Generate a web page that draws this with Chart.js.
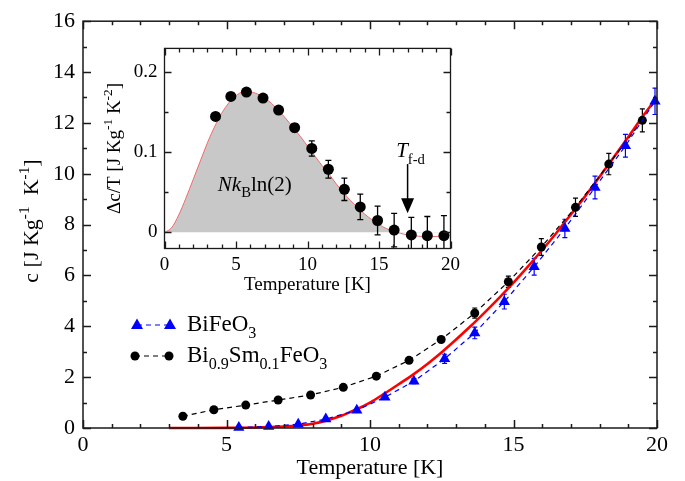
<!DOCTYPE html>
<html><head><meta charset="utf-8">
<script src="https://cdn.jsdelivr.net/npm/chart.js@4/dist/chart.umd.min.js"></script>
<style>html,body{margin:0;padding:0;background:#fff;}#wrap{position:relative;width:685px;height:481px;}#inset{position:absolute;left:95px;top:30px;}</style>
</head><body><div id="wrap"><canvas id="main" width="685" height="481"></canvas><canvas id="inset" width="370" height="272"></canvas></div>
<script>
// ---------- DATA ----------
const mainXTicks = [0, 5, 10, 15, 20];
const mainXMinor = [1,2,3,4,6,7,8,9,11,12,13,14,16,17,18,19];
const mainYTicks = [0, 2, 4, 6, 8, 10, 12, 14, 16];
const mainYMinor = [1,3,5,7,9,11,13,15];

const bfoT   = [5.43, 6.47, 7.5, 8.46, 9.54, 10.52, 11.53, 12.6, 13.65, 14.68, 15.72, 16.79, 17.84, 18.9, 19.93];
const bfoC   = [0.02, 0.06, 0.15, 0.35, 0.7, 1.21, 1.84, 2.72, 3.74, 4.97, 6.34, 7.85, 9.46, 11.1, 12.85];
const bfoErr = [0.03, 0.03, 0.04, 0.05, 0.06, 0.08, 0.1, 0.18, 0.23, 0.29, 0.33, 0.36, 0.45, 0.45, 0.52];

const bsfoT   = [3.48, 4.56, 5.67, 6.8, 7.93, 9.07, 10.22, 11.36, 12.48, 13.65, 14.82, 15.97, 17.16, 18.32, 19.49];
const bsfoC   = [0.46, 0.72, 0.9, 1.1, 1.3, 1.6, 2.04, 2.66, 3.48, 4.52, 5.75, 7.12, 8.68, 10.38, 12.1];
const bsfoErr = [0.03, 0.03, 0.03, 0.04, 0.04, 0.05, 0.06, 0.08, 0.1, 0.2, 0.22, 0.33, 0.36, 0.42, 0.45];

const fitT = [3, 4, 5, 6, 7, 7.5, 8, 8.5, 9, 9.5, 10, 10.5, 11, 11.5, 12, 12.5, 13, 13.5, 14, 14.5, 15, 15.5, 16, 16.5, 17, 17.5, 18, 18.5, 19, 19.5, 20];
const fitC = [0, 0, 0.005, 0.02, 0.06, 0.1, 0.17, 0.3, 0.48, 0.72, 1.0, 1.35, 1.72, 2.1, 2.52, 2.98, 3.48, 4.0, 4.55, 5.12, 5.72, 6.35, 7.0, 7.68, 8.4, 9.12, 9.88, 10.66, 11.45, 12.25, 13.0];

const insXTicks = [0, 5, 10, 15, 20];
const insXMinor = [1,2,3,4,6,7,8,9,11,12,13,14,16,17,18,19];
const insYTicks = [0, 0.1, 0.2];
const insYMinor = [0.05, 0.15];

const insT   = [3.57, 4.64, 5.73, 6.89, 7.98, 9.1, 10.3, 11.46, 12.58, 13.69, 14.9, 16.06, 17.26, 18.38, 19.54];
const insV   = [0.145, 0.170, 0.1755, 0.168, 0.153, 0.131, 0.105, 0.079, 0.054, 0.032, 0.015, 0.003, -0.003, -0.004, -0.004];
const insErr = [0.001, 0.001, 0.001, 0.002, 0.003, 0.005, 0.0095, 0.011, 0.014, 0.016, 0.018, 0.021, 0.022, 0.024, 0.025];

const insFitT = [0, 0.5, 1, 1.5, 2, 2.5, 3, 3.5, 4, 4.5, 5, 5.5, 6, 6.5, 7, 7.5, 8, 8.5, 9, 9.5, 10, 10.5, 11, 11.5, 12, 12.5, 13, 13.5, 14, 14.5, 15, 15.5, 16, 16.5, 17, 17.5, 18, 18.5, 19, 19.5, 20];
const insFitV = [0, 0.006, 0.022, 0.043, 0.066, 0.089, 0.112, 0.132, 0.149, 0.162, 0.171, 0.1755, 0.1755, 0.173, 0.168, 0.161, 0.152, 0.142, 0.131, 0.12, 0.108, 0.096, 0.084, 0.073, 0.061, 0.05, 0.04, 0.031, 0.023, 0.016, 0.01, 0.005, 0.002, -0.001, -0.003, -0.004, -0.005, -0.005, -0.005, -0.004, -0.003];

const arrowT = 17, arrowFrom = 0.0855, arrowTo = 0.024;

// ---------- helpers ----------
const FONT = '"Liberation Serif", "Times New Roman", serif';
const pts = (xs, ys) => xs.map((x, i) => ({x, y: ys[i]}));

function richWidth(ctx, parts, size) {
  let w = 0;
  for (const p of parts) {
    const s = p.s ? size * 0.7 : size;
    ctx.font = (p.i ? 'italic ' : '') + s + 'px ' + FONT;
    w += ctx.measureText(p.t).width;
  }
  return w;
}
function rich(ctx, parts, x, y, size, align) {
  let w = richWidth(ctx, parts, size);
  let cx = align === 'center' ? x - w / 2 : x;
  ctx.textBaseline = 'alphabetic';
  ctx.textAlign = 'left';
  for (const p of parts) {
    const s = p.s ? size * 0.7 : size;
    ctx.font = (p.i ? 'italic ' : '') + s + 'px ' + FONT;
    let dy = p.s === 'sub' ? size * 0.3 : (p.s === 'sup' ? -size * 0.42 : 0);
    ctx.fillText(p.t, cx, y + dy);
    cx += ctx.measureText(p.t).width;
  }
}

function frameTicks(chart, o) {
  const {ctx, chartArea: a, scales: {x, y}} = chart;
  ctx.save();
  ctx.strokeStyle = '#1a1a1a';
  ctx.lineWidth = o.lw;
  ctx.strokeRect(a.left, a.top, a.right - a.left, a.bottom - a.top);
  ctx.beginPath();
  const tx = (vals, len) => vals.forEach(v => {
    const p = Math.round(x.getPixelForValue(v)) + 0.5;
    ctx.moveTo(p, a.bottom); ctx.lineTo(p, a.bottom - len);
    ctx.moveTo(p, a.top); ctx.lineTo(p, a.top + len);
  });
  const ty = (vals, len) => vals.forEach(v => {
    const p = Math.round(y.getPixelForValue(v)) + 0.5;
    ctx.moveTo(a.left, p); ctx.lineTo(a.left + len, p);
    ctx.moveTo(a.right, p); ctx.lineTo(a.right - len, p);
  });
  tx(o.xMaj, o.maj); tx(o.xMin, o.min); ty(o.yMaj, o.maj); ty(o.yMin, o.min);
  ctx.stroke();
  ctx.restore();
}

function errBars(chart, xs, ys, es, color, cap, lw) {
  const {ctx, chartArea: a, scales: {x, y}} = chart;
  ctx.save();
  ctx.beginPath(); ctx.rect(a.left, a.top, a.right - a.left, a.bottom - a.top); ctx.clip();
  ctx.strokeStyle = color; ctx.lineWidth = lw;
  ctx.beginPath();
  xs.forEach((t, i) => {
    const px = x.getPixelForValue(t);
    const y1 = y.getPixelForValue(ys[i] + es[i]);
    const y2 = y.getPixelForValue(ys[i] - es[i]);
    if (Math.abs(y2 - y1) < 4) return;
    ctx.moveTo(px, y1); ctx.lineTo(px, y2);
    ctx.moveTo(px - cap, y1); ctx.lineTo(px + cap, y1);
    ctx.moveTo(px - cap, y2); ctx.lineTo(px + cap, y2);
  });
  ctx.stroke();
  ctx.restore();
}

// ---------- MAIN CHART ----------
const mainPlugin = {
  id: 'mainDeco',
  beforeDatasetsDraw(chart) {
    errBars(chart, bfoT, bfoC, bfoErr, '#0000ff', 2.5, 1.2);
    errBars(chart, bsfoT, bsfoC, bsfoErr, '#000', 2.5, 1.2);
  },
  afterDraw(chart) {
    const ctx = chart.ctx;
    frameTicks(chart, {lw: 1.5, maj: 8, min: 4, xMaj: mainXTicks, xMin: mainXMinor, yMaj: mainYTicks, yMin: mainYMinor});
    ctx.save();
    ctx.fillStyle = '#000';
    rich(ctx, [{t: 'Temperature [K]'}], (chart.chartArea.left + chart.chartArea.right) / 2, 474, 22, 'center');
    ctx.translate(38, 221); ctx.rotate(-Math.PI / 2);
    rich(ctx, [{t: 'c [J Kg'}, {t: '-1', s: 'sup'}, {t: '  K'}, {t: '-1', s: 'sup'}, {t: ']'}], 0, 0, 22, 'center');
    ctx.restore();
    // legend
    ctx.save();
    ctx.lineWidth = 1.2;
    ctx.setLineDash([5, 4]);
    ctx.strokeStyle = '#0000ff';
    ctx.beginPath(); ctx.moveTo(137, 325); ctx.lineTo(170, 325); ctx.stroke();
    ctx.strokeStyle = '#000';
    ctx.beginPath(); ctx.moveTo(135, 356); ctx.lineTo(169, 356); ctx.stroke();
    ctx.setLineDash([]);
    ctx.fillStyle = '#0000ff';
    [137, 170].forEach(px => { ctx.beginPath(); ctx.moveTo(px, 318.5); ctx.lineTo(px + 6, 329); ctx.lineTo(px - 6, 329); ctx.closePath(); ctx.fill(); });
    ctx.fillStyle = '#000';
    [135, 169].forEach(px => { ctx.beginPath(); ctx.arc(px, 356, 4.5, 0, Math.PI * 2); ctx.fill(); });
    rich(ctx, [{t: 'BiFeO'}, {t: '3', s: 'sub'}], 187, 331, 23, 'left');
    rich(ctx, [{t: 'Bi'}, {t: '0.9', s: 'sub'}, {t: 'Sm'}, {t: '0.1', s: 'sub'}, {t: 'FeO'}, {t: '3', s: 'sub'}], 187, 362, 23, 'left');
    ctx.restore();
  }
};

new Chart(document.getElementById('main'), {
  type: 'line',
  data: {
    datasets: [
      {label: 'BiFeO3', data: pts(bfoT, bfoC), borderColor: '#0000ff', backgroundColor: '#0000ff', borderWidth: 1.2, borderDash: [5, 4],
       pointStyle: 'triangle', pointRadius: 6.5, pointBorderWidth: 0, clip: false},
      {label: 'Bi0.9Sm0.1FeO3', data: pts(bsfoT, bsfoC), borderColor: '#000', backgroundColor: '#000', borderWidth: 1.2, borderDash: [5, 4],
       pointStyle: 'circle', pointRadius: 4.5, pointBorderWidth: 0, clip: false},
      {label: 'fit', data: pts(fitT, fitC), borderColor: '#ff0000', borderWidth: 2.6, pointRadius: 0, cubicInterpolationMode: 'monotone', clip: false}
    ]
  },
  options: {
    responsive: false, animation: false, devicePixelRatio: 1,
    layout: {padding: {left: 0, top: 19, right: 28, bottom: 0}},
    plugins: {legend: {display: false}, tooltip: {enabled: false}},
    scales: {
      x: {type: 'linear', min: 0, max: 20,
          grid: {display: false, drawTicks: false}, border: {display: false},
          afterBuildTicks: s => { s.ticks = mainXTicks.map(v => ({value: v})); },
          afterFit: s => { s.height = 53; },
          ticks: {padding: 4, color: '#000', font: {family: FONT, size: 22}, maxRotation: 0, callback: v => String(v)}},
      y: {type: 'linear', min: 0, max: 16,
          grid: {display: false, drawTicks: false}, border: {display: false},
          afterBuildTicks: s => { s.ticks = mainYTicks.map(v => ({value: v})); },
          afterFit: s => { s.width = 83; },
          ticks: {padding: 8, color: '#000', font: {family: FONT, size: 22}, callback: v => String(v)}}
    }
  },
  plugins: [mainPlugin]
});

// ---------- INSET CHART ----------
const insetPlugin = {
  id: 'insetDeco',
  afterDatasetsDraw(chart) {
    errBars(chart, insT, insV, insErr, '#000', 3, 1.3);
  },
  afterDraw(chart) {
    const ctx = chart.ctx;
    const {x, y} = chart.scales;
    frameTicks(chart, {lw: 1.3, maj: 7, min: 4, xMaj: insXTicks, xMin: insXMinor, yMaj: insYTicks, yMin: insYMinor});
    ctx.save();
    ctx.fillStyle = '#000';
    rich(ctx, [{t: 'Temperature [K]'}], (chart.chartArea.left + chart.chartArea.right) / 2, 260, 19, 'center');
    rich(ctx, [{t: 'N', i: 1}, {t: 'k', i: 1}, {t: 'B', s: 'sub'}, {t: 'ln(2)'}], x.getPixelForValue(3.73), y.getPixelForValue(0.052), 21, 'left');
    rich(ctx, [{t: 'T', i: 1}, {t: 'f-d', s: 'sub'}], x.getPixelForValue(16.2), y.getPixelForValue(0.094), 21, 'left');
    const ax = x.getPixelForValue(arrowT), ay1 = y.getPixelForValue(arrowFrom), ay2 = y.getPixelForValue(arrowTo);
    ctx.strokeStyle = '#000'; ctx.lineWidth = 1.5;
    ctx.beginPath(); ctx.moveTo(ax, ay1); ctx.lineTo(ax, ay2 - 12); ctx.stroke();
    ctx.beginPath(); ctx.moveTo(ax - 6.5, ay2 - 15); ctx.lineTo(ax + 6.5, ay2 - 15); ctx.lineTo(ax, ay2); ctx.closePath(); ctx.fill();
    ctx.translate(25, (chart.chartArea.top + chart.chartArea.bottom) / 2); ctx.rotate(-Math.PI / 2);
    rich(ctx, [{t: 'Δc/T [J Kg'}, {t: '-1', s: 'sup'}, {t: ' K'}, {t: '-2', s: 'sup'}, {t: ']'}], 0, 0, 19, 'center');
    ctx.restore();
  }
};

new Chart(document.getElementById('inset'), {
  type: 'line',
  data: {
    datasets: [
      {label: 'data', data: pts(insT, insV), showLine: false, backgroundColor: '#000', borderColor: '#000',
       pointStyle: 'circle', pointRadius: 5.5, pointBorderWidth: 0},
      {label: 'fit', data: pts(insFitT, insFitV), borderColor: '#f06a6a', borderWidth: 1, pointRadius: 0,
       cubicInterpolationMode: 'monotone',
       fill: {target: {value: 0}, above: '#c8c8c8', below: 'rgba(0,0,0,0)'}}
    ]
  },
  options: {
    responsive: false, animation: false, devicePixelRatio: 1,
    layout: {padding: {left: 0, top: 13.5, right: 13.5, bottom: 0}},
    plugins: {legend: {display: false}, tooltip: {enabled: false}, filler: {propagate: false}},
    scales: {
      x: {type: 'linear', min: 0, max: 20,
          grid: {display: false, drawTicks: false}, border: {display: false},
          afterBuildTicks: s => { s.ticks = insXTicks.map(v => ({value: v})); },
          afterFit: s => { s.height = 53.5; },
          ticks: {padding: 5, color: '#000', font: {family: FONT, size: 19}, maxRotation: 0, callback: v => String(v)}},
      y: {type: 'linear', min: -0.02, max: 0.23,
          grid: {display: false, drawTicks: false}, border: {display: false},
          afterBuildTicks: s => { s.ticks = insYTicks.map(v => ({value: v})); },
          afterFit: s => { s.width = 69.5; },
          ticks: {padding: 7, color: '#000', font: {family: FONT, size: 19}, callback: v => String(v)}}
    }
  },
  plugins: [insetPlugin]
});
</script></body></html>
